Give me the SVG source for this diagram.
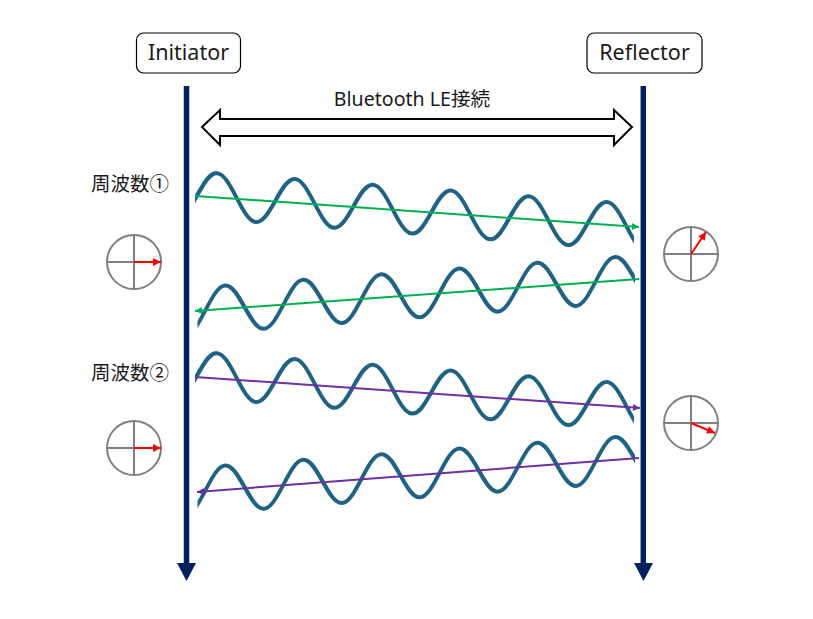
<svg xmlns="http://www.w3.org/2000/svg" xmlns:xlink="http://www.w3.org/1999/xlink" width="813" height="619" viewBox="0 0 813 619">
  <style>
    .lbl { font-family: "Noto Sans", "Noto Sans CJK JP", sans-serif; fill: #1a1a1a; }
    .box { fill: #ffffff; stroke: #000000; stroke-width: 1.2; }
    .timeline { stroke: #002060; stroke-width: 5.5; fill: none; }
    .tlhead { fill: #002060; }
    .wave { fill: none; stroke: #1f6283; stroke-width: 4; stroke-linecap: round; }
    .dial { fill: none; stroke: #808080; stroke-width: 2; }
    .phase { stroke: #ff0000; stroke-width: 2; fill: none; marker-end: url(#redHead); }
    .green { stroke: #00b050; stroke-width: 2; fill: none; marker-end: url(#greenHead); }
    .purple { stroke: #7030a0; stroke-width: 2; fill: none; marker-end: url(#purpleHead); }
  </style>
  <defs>
    <marker id="greenHead" viewBox="0 0 10 10" refX="10" refY="5" markerWidth="9" markerHeight="7" markerUnits="userSpaceOnUse" orient="auto">
      <path d="M0,0 L10,5 L0,10 z" fill="#00b050"/>
    </marker>
    <marker id="purpleHead" viewBox="0 0 10 10" refX="10" refY="5" markerWidth="9" markerHeight="7" markerUnits="userSpaceOnUse" orient="auto">
      <path d="M0,0 L10,5 L0,10 z" fill="#7030a0"/>
    </marker>
    <marker id="redHead" viewBox="0 0 10 10" refX="10" refY="5" markerWidth="9" markerHeight="8" markerUnits="userSpaceOnUse" orient="auto">
      <path d="M0,0 L10,5 L0,10 z" fill="#ff0000"/>
    </marker>
    <path id="sine" d="M-78,0 c6.52,-12.08 12.48,-23 19.5,-23 s12.98,10.92 19.5,23 s12.48,23 19.5,23 s12.98,-10.92 19.5,-23 s12.48,-23 19.5,-23 s12.98,10.92 19.5,23 s12.48,23 19.5,23 s12.98,-10.92 19.5,-23 s12.48,-23 19.5,-23 s12.98,10.92 19.5,23 s12.48,23 19.5,23 s12.98,-10.92 19.5,-23 s12.48,-23 19.5,-23 s12.98,10.92 19.5,23 s12.48,23 19.5,23 s12.98,-10.92 19.5,-23 s12.48,-23 19.5,-23 s12.98,10.92 19.5,23 s12.48,23 19.5,23 s12.98,-10.92 19.5,-23 s12.48,-23 19.5,-23 s12.98,10.92 19.5,23 s12.48,23 19.5,23 s12.98,-10.92 19.5,-23 s12.48,-23 19.5,-23 s12.98,10.92 19.5,23 s12.48,23 19.5,23 s12.98,-10.92 19.5,-23 s12.48,-23 19.5,-23"/>
    <clipPath id="waveClipOut" clipPathUnits="userSpaceOnUse">
      <rect x="195" y="0" width="439" height="619"/>
    </clipPath>
    <clipPath id="waveClipBack" clipPathUnits="userSpaceOnUse">
      <rect x="197.5" y="0" width="437.5" height="619"/>
    </clipPath>
  </defs>

  <rect width="813" height="619" fill="#ffffff"/>

  <g id="initiator">
    <rect class="box" x="136.5" y="33" width="104" height="40" rx="7"/>
    <text class="lbl" x="188.5" y="60" font-size="21.5" text-anchor="middle">Initiator</text>
    <line class="timeline" x1="186.5" y1="86" x2="186.5" y2="565"/>
    <polygon class="tlhead" points="177,563 196,563 186.5,581"/>
  </g>

  <g id="reflector">
    <rect class="box" x="587" y="33" width="115" height="40" rx="7"/>
    <text class="lbl" x="644.5" y="60" font-size="21.5" text-anchor="middle">Reflector</text>
    <line class="timeline" x1="643.3" y1="86" x2="643.3" y2="565"/>
    <polygon class="tlhead" points="634,563 653,563 643.5,581"/>
  </g>

  <g id="ble-connection">
    <polygon points="202,127 220,110 220,119 614,119 614,110 632,127 614,145 614,136 220,136 220,145" fill="#ffffff" stroke="#000000" stroke-width="2" stroke-linejoin="miter"/>
    <text class="lbl" x="412" y="106" font-size="19.6" text-anchor="middle">Bluetooth LE接続</text>
  </g>

  <g id="labels">
    <text class="lbl" x="91" y="191" font-size="19.5">周波数①</text>
    <text class="lbl" x="91" y="379.5" font-size="19.5">周波数②</text>
  </g>

  <g id="waves">
    <g clip-path="url(#waveClipOut)">
      <use xlink:href="#sine" href="#sine" class="wave" transform="translate(197.5,194.7) skewY(4.226)"/>
      <use xlink:href="#sine" href="#sine" class="wave" transform="translate(197.5,374.7) skewY(4.226)"/>
    </g>
    <g clip-path="url(#waveClipBack)">
      <use xlink:href="#sine" href="#sine" class="wave" transform="translate(205.6,310) skewY(-4.18)"/>
      <use xlink:href="#sine" href="#sine" class="wave" transform="translate(205.6,490) skewY(-4.18)"/>
    </g>
  </g>

  <g id="connectors">
    <line class="green" x1="195" y1="196" x2="639" y2="227"/>
    <line class="green" x1="639" y1="279" x2="195" y2="311"/>
    <line class="purple" x1="195" y1="377" x2="640" y2="408"/>
    <line class="purple" x1="639" y1="458" x2="197" y2="492"/>
  </g>

  <g id="phase-init-1">
    <circle class="dial" cx="134" cy="262" r="27"/>
    <line class="dial" x1="107" y1="262" x2="161" y2="262"/>
    <line class="dial" x1="134" y1="235" x2="134" y2="289"/>
    <line class="phase" x1="134" y1="262" x2="161" y2="262"/>
  </g>
  <g id="phase-init-2">
    <circle class="dial" cx="134" cy="448" r="27"/>
    <line class="dial" x1="107" y1="448" x2="161" y2="448"/>
    <line class="dial" x1="134" y1="421" x2="134" y2="475"/>
    <line class="phase" x1="134" y1="448" x2="161" y2="448"/>
  </g>
  <g id="phase-refl-1">
    <circle class="dial" cx="691" cy="254" r="27"/>
    <line class="dial" x1="664" y1="254" x2="718" y2="254"/>
    <line class="dial" x1="691" y1="227" x2="691" y2="281"/>
    <line class="phase" x1="691" y1="254" x2="706" y2="232"/>
  </g>
  <g id="phase-refl-2">
    <circle class="dial" cx="691" cy="423" r="27"/>
    <line class="dial" x1="664" y1="423" x2="718" y2="423"/>
    <line class="dial" x1="691" y1="396" x2="691" y2="450"/>
    <line class="phase" x1="691" y1="423" x2="715" y2="433"/>
  </g>
</svg>
